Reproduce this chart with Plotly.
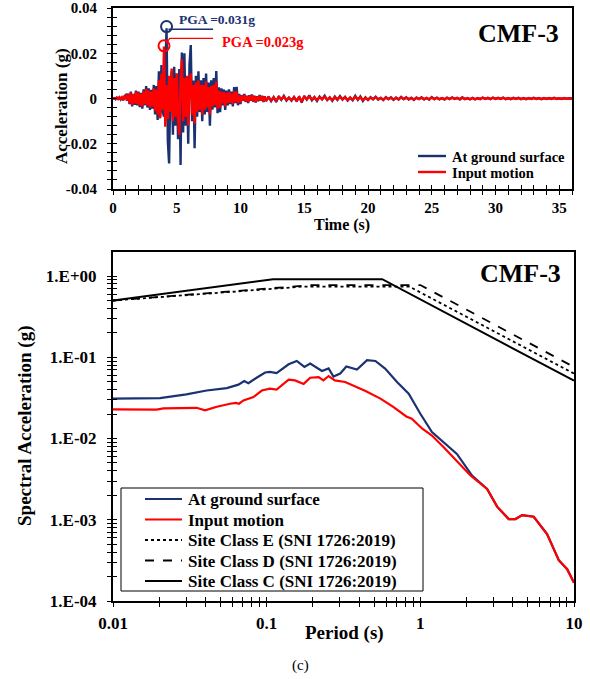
import numpy as np
import plotly.graph_objects as go

SERIF = "Liberation Serif"
NAVY = "#1B3272"
RED = "#FF0000"
W, H = 590, 679

# ---------------- acceleration time histories ----------------
t_main = np.round(np.arange(0.0, 12.01, 0.1), 1)
t_tail = np.round(np.arange(12.2, 36.01, 0.2), 1)
time_s = np.concatenate([t_main, t_tail])

acc_surface = [
    0.0000, 0.0002, -0.0003, 0.0004, -0.0002, 0.0005, -0.0004, 0.0006, -0.0008, 0.0010,
    0.0015, -0.0010, 0.0022, -0.0025, 0.0030, -0.0035, 0.0020, -0.0028, 0.0035, -0.0030,
    0.0030, -0.0038, 0.0025, -0.0045, 0.0040, -0.0030, 0.0055, -0.0040, 0.0045, -0.0050,
    0.0038, -0.0045, 0.0060, -0.0070, 0.0055, -0.0095, 0.0120, -0.0080, 0.0148, -0.0060,
    -0.0080, 0.0120, 0.0310, -0.0190, -0.0287, 0.0060, 0.0120, -0.0160, 0.0140, -0.0120,
    0.0110, -0.0180, 0.0130, -0.0294, 0.0203, -0.0150, 0.0200, -0.0120, 0.0080, -0.0200,
    0.0150, 0.0236, -0.0100, 0.0080, -0.0220, 0.0100, -0.0080, 0.0120, -0.0060, 0.0080,
    -0.0100, 0.0090, -0.0070, 0.0110, -0.0060, 0.0070, -0.0120, 0.0080, -0.0050, 0.0090,
    -0.0040, 0.0121, -0.0065, 0.0050, -0.0060, 0.0045, -0.0030, 0.0040, -0.0050, 0.0035,
    -0.0030, 0.0040, -0.0025, 0.0030, -0.0035, 0.0050, -0.0020, 0.0052, -0.0030, 0.0020,
    -0.0025, 0.0015, -0.0010, 0.0020, -0.0015, 0.0012, -0.0020, 0.0015, -0.0010, 0.0018,
    -0.0015, 0.0012, -0.0018, 0.0010, -0.0012, 0.0015, -0.0010, 0.0012, -0.0015, 0.0010,
    -0.0012,
    # 12.2 s onwards
    0.0008, -0.0012, 0.0006, -0.0015, 0.0010, -0.0006, 0.0012, -0.0009, 0.0004, -0.0010,
    0.0007, -0.0013, 0.0009, -0.0018, 0.0011, -0.0005, 0.0014, -0.0008, 0.0006, -0.0011,
    0.0009, -0.0004, 0.0012, -0.0007, 0.0005, -0.0010, 0.0008, -0.0006, 0.0011, -0.0005,
    0.0007, -0.0009, 0.0004, -0.0008, 0.0012, -0.0006, 0.0009, -0.0011, 0.0005, -0.0007,
    0.0006, -0.0004, 0.0008, -0.0005, 0.0003, -0.0007, 0.0006, -0.0003, 0.0005, -0.0006,
    0.0004, -0.0005, 0.0007, -0.0003, 0.0005, -0.0004, 0.0003, -0.0006, 0.0004, -0.0003,
    0.0005, -0.0004, 0.0003, -0.0005, 0.0006, -0.0003, 0.0004, -0.0004, 0.0002, -0.0005,
    0.0004, -0.0003, 0.0005, -0.0002, 0.0003, -0.0004, 0.0005, -0.0003, 0.0002, -0.0004,
    0.0003, -0.0004, 0.0002, -0.0003, 0.0004, -0.0002, 0.0003, -0.0003, 0.0004, -0.0002,
    0.0003, -0.0002, 0.0004, -0.0003, 0.0002, -0.0003, 0.0003, -0.0002, 0.0003, -0.0003,
    0.0002, -0.0003, 0.0002, -0.0002, 0.0003, -0.0002, 0.0002, -0.0003, 0.0002, -0.0002,
    0.0002, -0.0002, 0.0003, -0.0002, 0.0001, -0.0002, 0.0002, -0.0001, 0.0001, 0.0000,
]

acc_input = [
    0.0000, 0.0001, -0.0002, 0.0003, -0.0002, 0.0004, -0.0003, 0.0005, -0.0006, 0.0008,
    0.0012, -0.0008, 0.0018, -0.0020, 0.0025, -0.0028, 0.0018, -0.0022, 0.0030, -0.0025,
    0.0025, -0.0030, 0.0020, -0.0035, 0.0032, -0.0025, 0.0042, -0.0030, 0.0035, -0.0040,
    0.0030, -0.0035, 0.0045, -0.0055, 0.0040, -0.0070, 0.0080, -0.0088, 0.0110, -0.0050,
    0.0230, -0.0125, 0.0060, -0.0090, 0.0100, -0.0060, 0.0133, -0.0100, 0.0090, -0.0080,
    0.0110, -0.0090, -0.0161, 0.0080, 0.0173, -0.0100, 0.0090, -0.0080, 0.0100, -0.0120,
    0.0080, 0.0110, -0.0070, 0.0060, -0.0110, 0.0070, -0.0060, 0.0080, -0.0050, 0.0060,
    -0.0070, 0.0060, -0.0050, 0.0075, -0.0040, 0.0050, -0.0070, 0.0055, -0.0035, 0.0060,
    -0.0030, 0.0075, -0.0045, 0.0035, -0.0040, 0.0030, -0.0022, 0.0028, -0.0035, 0.0025,
    -0.0020, 0.0028, -0.0018, 0.0022, -0.0025, 0.0032, -0.0015, 0.0030, -0.0020, 0.0015,
    -0.0018, 0.0012, -0.0008, 0.0015, -0.0012, 0.0010, -0.0015, 0.0012, -0.0008, 0.0014,
    -0.0012, 0.0010, -0.0014, 0.0008, -0.0010, 0.0012, -0.0008, 0.0010, -0.0012, 0.0008,
    -0.0010,
    # 12.2 s onwards
    0.0005, -0.0008, 0.0004, -0.0010, 0.0007, -0.0004, 0.0008, -0.0006, 0.0003, -0.0007,
    0.0005, -0.0009, 0.0006, -0.0012, 0.0007, -0.0003, 0.0009, -0.0005, 0.0004, -0.0007,
    0.0006, -0.0003, 0.0008, -0.0005, 0.0003, -0.0007, 0.0005, -0.0004, 0.0007, -0.0003,
    0.0005, -0.0006, 0.0003, -0.0005, 0.0008, -0.0004, 0.0006, -0.0007, 0.0003, -0.0005,
    0.0004, -0.0003, 0.0005, -0.0003, 0.0002, -0.0005, 0.0004, -0.0002, 0.0003, -0.0004,
    0.0003, -0.0003, 0.0005, -0.0002, 0.0003, -0.0003, 0.0002, -0.0004, 0.0003, -0.0002,
    0.0003, -0.0003, 0.0002, -0.0003, 0.0004, -0.0002, 0.0003, -0.0003, 0.0001, -0.0003,
    0.0003, -0.0002, 0.0003, -0.0001, 0.0002, -0.0003, 0.0003, -0.0002, 0.0001, -0.0003,
    0.0002, -0.0003, 0.0001, -0.0002, 0.0003, -0.0001, 0.0002, -0.0002, 0.0003, -0.0001,
    0.0002, -0.0001, 0.0003, -0.0002, 0.0001, -0.0002, 0.0002, -0.0001, 0.0002, -0.0002,
    0.0001, -0.0002, 0.0001, -0.0001, 0.0002, -0.0001, 0.0001, -0.0002, 0.0001, -0.0001,
    0.0001, -0.0001, 0.0002, -0.0001, 0.0001, -0.0001, 0.0001, -0.0001, 0.0001, 0.0000,
]

time_ticks = [0, 5, 10, 15, 20, 25, 30, 35]
acc_ticks = [-0.04, -0.02, 0.0, 0.02, 0.04]
acc_tick_text = ["-0.04", "-0.02", "0", "0.02", "0.04"]

# ---------------- response spectra ----------------
period_surface = [0.01, 0.0202, 0.030, 0.0407, 0.055, 0.0655, 0.0714, 0.076, 0.086, 0.0977,
                  0.105, 0.116, 0.139, 0.157, 0.176, 0.192, 0.229, 0.253, 0.272, 0.301,
                  0.33, 0.387, 0.45, 0.51, 0.59, 0.705, 0.84, 0.90, 1.0, 1.19,
                  1.42, 1.73, 2.17, 2.72, 3.16, 3.76, 4.16, 4.6, 5.47, 6.68,
                  7.96, 9.03, 10.0]
sa_surface = [0.031, 0.0315, 0.035, 0.039, 0.0418, 0.046, 0.051, 0.048, 0.056, 0.065,
              0.066, 0.064, 0.082, 0.090, 0.076, 0.0836, 0.0678, 0.073, 0.058, 0.063,
              0.077, 0.0705, 0.092, 0.090, 0.0725, 0.0496, 0.0356, 0.028, 0.0202, 0.012,
              0.0090, 0.00645, 0.0035, 0.0024, 0.00145, 0.00102, 0.00102, 0.00114, 0.00109, 0.000665,
              0.000318, 0.000246, 0.000168]

period_input = [0.01, 0.0192, 0.0213, 0.035, 0.0397, 0.0474, 0.0578, 0.063, 0.066, 0.0706,
                0.082, 0.0908, 0.093, 0.105, 0.116, 0.139, 0.153, 0.174, 0.192, 0.218,
                0.234, 0.253, 0.278, 0.324, 0.387, 0.44, 0.55, 0.67, 0.81, 0.88,
                1.03, 1.19, 1.42, 1.79, 2.12, 2.72, 3.16, 3.76, 4.16, 4.6,
                5.47, 6.68, 7.96, 9.03, 10.0]
sa_input = [0.0228, 0.0227, 0.0235, 0.0239, 0.0222, 0.0246, 0.0268, 0.0275, 0.0268, 0.0294,
            0.0324, 0.0373, 0.039, 0.041, 0.040, 0.053, 0.052, 0.047, 0.056, 0.057,
            0.052, 0.0588, 0.052, 0.0496, 0.043, 0.0384, 0.031, 0.0244, 0.0187, 0.0175,
            0.0132, 0.0109, 0.0078, 0.0049, 0.0035, 0.0024, 0.00145, 0.00102, 0.00102, 0.00114,
            0.00109, 0.000665, 0.000318, 0.000246, 0.000168]

# SNI 1726:2019 design spectra (corner points)
period_class_e = [0.01, 0.17, 0.85, 10.0]
sa_class_e = [0.50, 0.74, 0.74, 0.063]
period_class_d = [0.01, 0.20, 1.00, 10.0]
sa_class_d = [0.50, 0.775, 0.775, 0.076]
period_class_c = [0.01, 0.11, 0.565, 10.0]
sa_class_c = [0.50, 0.915, 0.915, 0.0515]

period_ticks = [0.01, 0.1, 1, 10]
period_tick_text = ["0.01", "0.1", "1", "10"]
sa_ticks = [1e-4, 1e-3, 1e-2, 1e-1, 1.0]
sa_tick_text = ["1.E-04", "1.E-03", "1.E-02", "1.E-01", "1.E+00"]

top_legend_names = ["At ground surface", "Input motion"]
bottom_legend_names = ["At ground surface", "Input motion",
                       "Site Class E (SNI 1726:2019)", "Site Class D (SNI 1726:2019)",
                       "Site Class C (SNI 1726:2019)"]


def bold(size, color="black"):
    return dict(family=SERIF, size=size, color=color, weight="bold")


def log_ticks(decades):
    return [m * 10.0 ** d for d in decades for m in range(1, 10)]


def px(x):
    return x / W


def py(y):
    return 1 - y / H


fig = go.Figure()

# ---- time-history traces ----
line_surface_top = dict(color=NAVY, width=2.4)
line_input_top = dict(color=RED, width=2.4)
fig.add_trace(go.Scatter(x=time_s, y=acc_surface, mode="lines", name=top_legend_names[0],
                         line=line_surface_top, showlegend=False, xaxis="x", yaxis="y"))
fig.add_trace(go.Scatter(x=time_s, y=acc_input, mode="lines", name=top_legend_names[1],
                         line=line_input_top, showlegend=False, xaxis="x", yaxis="y"))

# PGA markers and leader lines
surf_arr = np.array(acc_surface)
inp_arr = np.array(acc_input)
i_s = int(np.argmax(np.abs(surf_arr)))
i_i = int(np.argmax(np.abs(inp_arr)))
pga_s, t_s = float(abs(surf_arr[i_s])), float(time_s[i_s])
pga_i, t_i = float(abs(inp_arr[i_i])), float(time_s[i_i])

fig.add_trace(go.Scatter(x=[t_s + 0.15, 7.85], y=[pga_s - 0.0004, pga_s - 0.0004], mode="lines",
                         line=dict(color=NAVY, width=1.3), showlegend=False, hoverinfo="skip"))
fig.add_trace(go.Scatter(x=[t_i + 0.15, t_i + 0.45, 7.85],
                         y=[pga_i + 0.0012, pga_i + 0.0036, pga_i + 0.0036], mode="lines",
                         line=dict(color=RED, width=1.3), showlegend=False, hoverinfo="skip"))
fig.add_trace(go.Scatter(x=[t_s], y=[pga_s + 0.0008], mode="markers",
                         marker=dict(symbol="circle-open", size=11, color=NAVY, line=dict(width=2, color=NAVY)),
                         showlegend=False, hoverinfo="skip"))
fig.add_trace(go.Scatter(x=[t_i], y=[pga_i + 0.0003], mode="markers",
                         marker=dict(symbol="circle-open", size=11, color=RED, line=dict(width=2, color=RED)),
                         showlegend=False, hoverinfo="skip"))

# ---- spectra traces ----
spec_lines = [
    dict(color=NAVY, width=2.2),
    dict(color=RED, width=2.2),
    dict(color="black", width=1.8, dash="dot"),
    dict(color="black", width=1.8, dash="dash"),
    dict(color="black", width=2.0),
]
spec_data = [(period_surface, sa_surface), (period_input, sa_input),
             (period_class_e, sa_class_e), (period_class_d, sa_class_d),
             (period_class_c, sa_class_c)]
for (xs, ys), name, ln in zip(spec_data, bottom_legend_names, spec_lines):
    fig.add_trace(go.Scatter(x=xs, y=ys, mode="lines", name=name, line=ln,
                             showlegend=False, xaxis="x2", yaxis="y2"))

# empty traces that carry the inward half of the crossing tick marks
fig.add_trace(go.Scatter(x=[None], y=[None], xaxis="x3", yaxis="y3", showlegend=False, hoverinfo="skip"))
fig.add_trace(go.Scatter(x=[None], y=[None], xaxis="x4", yaxis="y4", showlegend=False, hoverinfo="skip"))

top_dx = [px(113), px(572)]
top_dy = [py(189), py(8)]
bot_dx = [px(113), px(574)]
bot_dy = [py(601), py(252)]
sa_range = [-4, 0.296]

common = dict(showgrid=False, zeroline=False, tickcolor="black")

x_minor = dict(tick0=0, dtick=1, ticks="outside", ticklen=4, tickwidth=1, tickcolor="black")
y_minor = dict(tick0=0, dtick=0.004, ticks="outside", ticklen=4, tickwidth=1, tickcolor="black")

period_all = log_ticks([-2, -1, 0]) + [10.0]
sa_all = [v for v in log_ticks([-4, -3, -2, -1, 0]) if v <= 10 ** sa_range[1]]

fig.update_layout(
    width=W, height=H,
    margin=dict(l=0, r=0, t=0, b=0, autoexpand=False),
    paper_bgcolor="white", plot_bgcolor="white",
    showlegend=False,
    xaxis=dict(domain=top_dx, anchor="y", range=[0, 36], tickmode="array", tickvals=time_ticks,
               ticks="outside", ticklen=4, tickwidth=1.3, minor=x_minor,
               showline=True, linecolor="black", linewidth=2, mirror=True,
               tickfont=bold(15), **common),
    yaxis=dict(domain=top_dy, anchor="x", range=[-0.04, 0.04], tickmode="array",
               tickvals=acc_ticks, ticktext=acc_tick_text,
               ticks="outside", ticklen=4, tickwidth=1.3, minor=y_minor,
               showline=True, linecolor="black", linewidth=2, mirror=True,
               ticklabelstandoff=7, tickfont=bold(15), **common),
    xaxis3=dict(overlaying="x", anchor="y3", range=[0, 36], tickmode="array", tickvals=time_ticks,
                ticks="inside", ticklen=4, tickwidth=1.3, showticklabels=False, showline=False,
                minor=dict(x_minor, ticks="inside"), **common),
    yaxis3=dict(overlaying="y", anchor="x3", range=[-0.04, 0.04], tickmode="array", tickvals=acc_ticks,
                ticks="inside", ticklen=4, tickwidth=1.3, showticklabels=False, showline=False,
                minor=dict(y_minor, ticks="inside"), **common),
    xaxis2=dict(domain=bot_dx, anchor="y2", type="log", range=[-2, 1], tickmode="array",
                tickvals=period_all,
                ticktext=[period_tick_text[period_ticks.index(v)] if v in period_ticks else "" for v in period_all],
                ticks="outside", ticklen=4, tickwidth=1.3,
                showline=True, linecolor="black", linewidth=2, mirror=True,
                ticklabelstandoff=2, tickfont=bold(17), **common),
    yaxis2=dict(domain=bot_dy, anchor="x2", type="log", range=sa_range, tickmode="array",
                tickvals=sa_all,
                ticktext=[sa_tick_text[sa_ticks.index(v)] if v in sa_ticks else "" for v in sa_all],
                ticks="outside", ticklen=4, tickwidth=1.3,
                showline=True, linecolor="black", linewidth=2, mirror=True,
                ticklabelstandoff=7, tickfont=bold(17), **common),
    xaxis4=dict(overlaying="x2", anchor="y4", type="log", range=[-2, 1], tickmode="array",
                tickvals=period_all, ticks="inside", ticklen=4, tickwidth=1.3,
                showticklabels=False, showline=False, **common),
    yaxis4=dict(overlaying="y2", anchor="x4", type="log", range=sa_range, tickmode="array",
                tickvals=sa_all, ticks="inside", ticklen=4, tickwidth=1.3,
                showticklabels=False, showline=False, **common),
)

shapes = []
ann = []

# ---- legend of the time-history panel ----
for k, (name, ln) in enumerate(zip(top_legend_names, [line_surface_top, line_input_top])):
    yk = 156 + 16 * k
    shapes.append(dict(type="line", xref="paper", yref="paper", x0=px(418), x1=px(446),
                       y0=py(yk), y1=py(yk), line=dict(color=ln["color"], width=2.4)))
    ann.append(dict(text=name, x=px(450), y=py(yk + 0.5), xref="paper", yref="paper",
                    xanchor="left", yanchor="middle", showarrow=False, font=bold(14.5)))

# ---- legend of the spectra panel ----
shapes.append(dict(type="rect", xref="paper", yref="paper", x0=px(121), x1=px(423),
                   y0=py(591), y1=py(488), line=dict(color="black", width=1),
                   fillcolor="white", layer="above"))
for k, (name, ln) in enumerate(zip(bottom_legend_names, spec_lines)):
    yk = 499 + 20.5 * k
    shapes.append(dict(type="line", xref="paper", yref="paper", x0=px(145), x1=px(182),
                       y0=py(yk), y1=py(yk), layer="above",
                       line=dict(color=ln["color"], width=ln["width"], dash=ln.get("dash", "solid"))))
    ann.append(dict(text=name, x=px(186), y=py(yk + 0.5), xref="paper", yref="paper",
                    xanchor="left", yanchor="middle", showarrow=False, font=bold(17)))

# ---- titles and labels ----
ann.append(dict(text="Acceleration (g)", x=px(61), y=py(106), xref="paper", yref="paper",
                xanchor="center", yanchor="middle", textangle=-90, showarrow=False, font=bold(17)))
ann.append(dict(text="Time (s)", x=px(342), y=py(225), xref="paper", yref="paper",
                xanchor="center", yanchor="middle", showarrow=False, font=bold(16)))
ann.append(dict(text="CMF-3", x=px(561), y=py(33), xref="paper", yref="paper",
                xanchor="right", yanchor="middle", showarrow=False, font=bold(26)))
ann.append(dict(text="CMF-3", x=px(563), y=py(273), xref="paper", yref="paper",
                xanchor="right", yanchor="middle", showarrow=False, font=bold(26)))
ann.append(dict(text="Spectral Acceleration (g)", x=px(25), y=py(426), xref="paper", yref="paper",
                xanchor="center", yanchor="middle", textangle=-90, showarrow=False, font=bold(19)))
ann.append(dict(text="Period (s)", x=px(344), y=py(633), xref="paper", yref="paper",
                xanchor="center", yanchor="middle", showarrow=False, font=bold(19)))
ann.append(dict(text="(c)", x=px(300), y=py(665), xref="paper", yref="paper",
                xanchor="center", yanchor="middle", showarrow=False,
                font=dict(family=SERIF, size=15, color="black")))
ann.append(dict(text=f"PGA ={pga_s:.3f}g", x=5.0, y=0.0351, xref="x", yref="y",
                xanchor="left", yanchor="middle", showarrow=False, font=bold(13.5, NAVY)))
ann.append(dict(text=f"PGA ={pga_i:.3f}g", x=8.4, y=0.0251, xref="x", yref="y",
                xanchor="left", yanchor="middle", showarrow=False, font=bold(14.5, RED)))

fig.update_layout(shapes=shapes, annotations=ann)

fig.write_html("out.html")
